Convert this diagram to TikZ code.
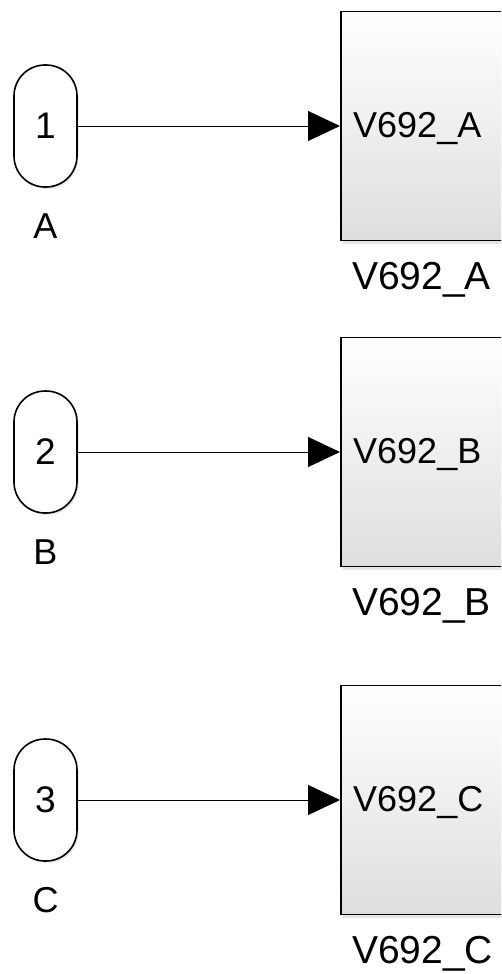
\documentclass[tikz,border=0pt]{standalone}
\usepackage{fontspec}
\setmainfont{Liberation Sans}
\usetikzlibrary{positioning, arrows.meta, shadows}

\tikzset{
    inport/.style={draw, line width=1.6pt, rounded corners=31pt, fill=white,
        minimum width=63pt, minimum height=122pt, inner sep=0pt,
        font=\fontsize{37}{40}\selectfont,
        drop shadow={shadow xshift=1.5pt, shadow yshift=-2pt, opacity=0.2}},
    subsys/.style={draw, line width=1.6pt, top color=white, bottom color=gray!26,
        minimum width=230pt, minimum height=229pt, anchor=west,
        drop shadow={shadow xshift=2pt, shadow yshift=-3pt, opacity=0.2}},
    sig/.style={line width=1pt, -{Triangle[length=32pt, width=30pt]}},
    portname/.style={inner sep=0pt, anchor=base, font=\fontsize{36}{40}\selectfont},
    insidename/.style={inner sep=0pt, anchor=base west, font=\fontsize{36}{40}\selectfont},
    blockname/.style={inner sep=0pt, anchor=base west, font=\fontsize{39}{44}\selectfont}
}

\begin{document}
\begin{tikzpicture}[x=1pt, y=-1pt]
    % Frame
    \clip (0,0) rectangle (501,974);
    \fill[white] (0,0) rectangle (501,974);

    % Row A
    \node[inport] (portA) at (45.5,126) {1};
    \node[portname] (nameA) at ([yshift=-51pt]portA.south) {A};
    \node[subsys] (blkA) at (340,126) {};
    \node[insidename] (inA) at ([xshift=13pt, yshift=-11pt]blkA.west) {V692\_A};
    \node[blockname] (lblA) at ([xshift=12pt, yshift=-48pt]blkA.south west) {V692\_A};
    \draw[sig] (portA.east) -- (blkA.west);

    % Row B
    \node[inport] (portB) at (45.5,452) {2};
    \node[portname] (nameB) at ([yshift=-51pt]portB.south) {B};
    \node[subsys] (blkB) at (340,452) {};
    \node[insidename] (inB) at ([xshift=13pt, yshift=-11pt]blkB.west) {V692\_B};
    \node[blockname] (lblB) at ([xshift=12pt, yshift=-48pt]blkB.south west) {V692\_B};
    \draw[sig] (portB.east) -- (blkB.west);

    % Row C
    \node[inport] (portC) at (45.5,800) {3};
    \node[portname] (nameC) at ([yshift=-51pt]portC.south) {C};
    \node[subsys] (blkC) at (340,800) {};
    \node[insidename] (inC) at ([xshift=13pt, yshift=-11pt]blkC.west) {V692\_C};
    \node[blockname] (lblC) at ([xshift=12pt, yshift=-48pt]blkC.south west) {V692\_C};
    \draw[sig] (portC.east) -- (blkC.west);
\end{tikzpicture}
\end{document}
